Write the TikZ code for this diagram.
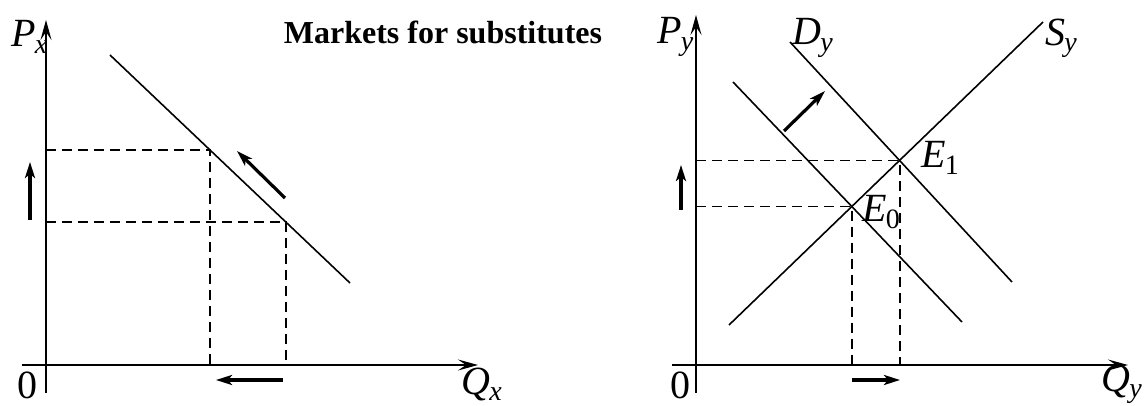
\documentclass[tikz,border=0pt]{standalone}
\usepackage{fontspec}
\setmainfont{Liberation Serif}
\usetikzlibrary{arrows.meta}
\newcommand\lab[2]{\textit{#1}\kern-0.5pt\raisebox{-0.35ex}{\fontsize{14}{14}\selectfont #2}}
\begin{document}
\begin{tikzpicture}[x=0.5pt,y=-0.5pt,
    axis/.style={line width=1pt,-{Stealth[length=10pt,width=5.5pt,inset=4pt]}},
    curve/.style={line width=0.8pt},
    guide/.style={line width=0.9pt,dash pattern=on 5pt off 3pt},
    move/.style={line width=1.6pt,-{Stealth[length=8pt,width=5pt,inset=2pt]}},
    lbl/.style={font=\fontsize{20}{20}\selectfont,inner sep=0pt}]
    \useasboundingbox (0,0) rectangle (1147,406);

    % Marche X
    \coordinate (ox) at (46,365);
    \draw[axis] (46,393) -- (46,20);
    \draw[axis] (22,365) -- (478,365);
    \node[lbl] (zx) at (28,385) {0};
    \node[lbl,anchor=west] (qx) at (461,384) {\lab{Q}{\textit{x}}};
    \node[lbl,anchor=west] (px) at (11,37) {\lab{P}{\textit{x}}};

    \coordinate (dx0) at (110,55);
    \coordinate (dx1) at (350,283);
    \draw[curve] (dx0) -- (dx1);
    \coordinate (A) at (intersection of dx0--dx1 and 210,0--210,400);
    \coordinate (B) at (intersection of dx0--dx1 and 286,0--286,400);
    \draw[guide] (46,0 |- A) -- (A) -- (A |- ox);
    \draw[guide] (46,0 |- B) -- (B) -- (B |- ox);

    % fleches
    \draw[move] (285,198) -- (237,151);
    \draw[move] (30,220) -- (30,162);
    \draw[move] (283,380) -- (216,380);

    \node[font=\bfseries\fontsize{16}{16}\selectfont] (title) at (443,32) {Markets for substitutes};

    % Marche Y
    \coordinate (oy) at (696,365);
    \draw[axis] (696,393) -- (696,15);
    \draw[axis] (672,365) -- (1128,365);
    \node[lbl] (zy) at (680,385) {0};
    \node[lbl,anchor=west] (qy) at (1101,384) {\lab{Q}{\textit{y}}};
    \node[lbl,anchor=west] (py) at (657,37) {\lab{P}{\textit{y}}};

    \coordinate (s0) at (729,325);
    \coordinate (s1) at (1043,22);
    \coordinate (d0) at (733,82);
    \coordinate (d1) at (962,322);
    \coordinate (n0) at (790,42);
    \coordinate (n1) at (1012,282);
    \draw[curve] (s0) -- (s1);
    \draw[curve] (d0) -- (d1);
    \draw[curve] (n0) -- (n1);
    \coordinate (E0) at (intersection of s0--s1 and d0--d1);
    \coordinate (E1) at (intersection of s0--s1 and n0--n1);
    \draw[guide] (E0 -| oy) -- (E0) -- (E0 |- oy);
    \draw[guide] (E1 -| oy) -- (E1) -- (E1 |- oy);

    \node[lbl,anchor=west] (dy) at (792,38) {\lab{D}{\textit{y}}};
    \node[lbl,anchor=west] (sy) at (1045,38) {\lab{S}{\textit{y}}};
    \node[lbl,anchor=west] (e1) at (921,158) {\lab{E}{1}};
    \node[lbl,anchor=west] (e0) at (862,212) {\lab{E}{0}};

    \draw[move] (784,131) -- (825,91);
    \draw[move] (681,210) -- (681,165);
    \draw[move] (852,380) -- (900,380);
\end{tikzpicture}
\end{document}
